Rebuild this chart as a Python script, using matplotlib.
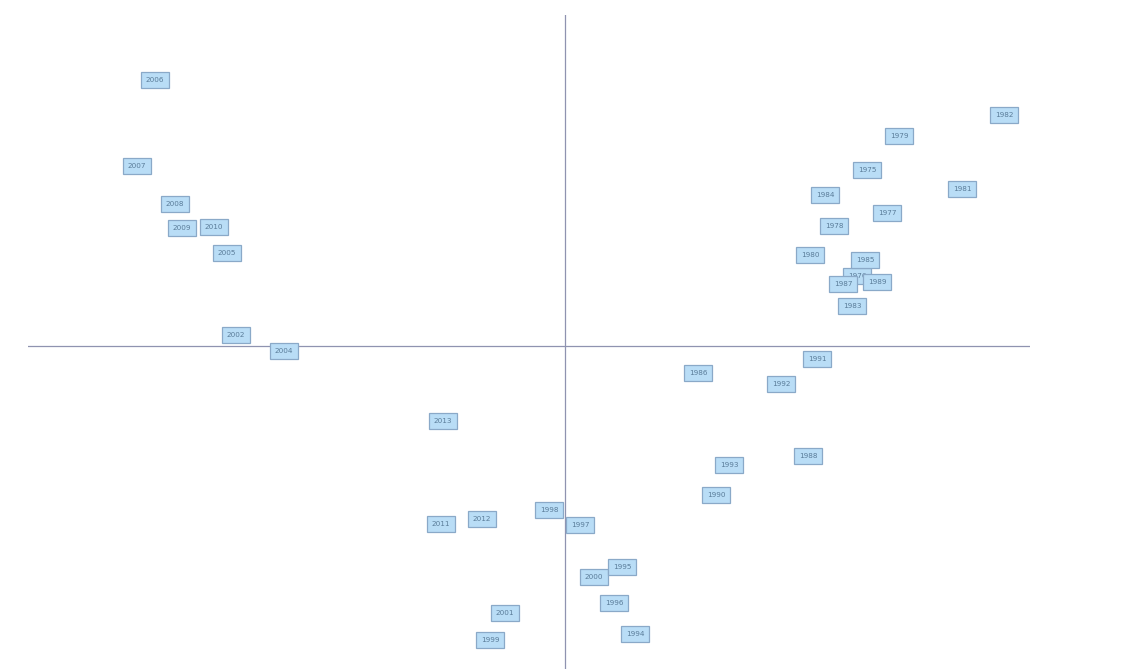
import matplotlib
matplotlib.use("Agg")
import matplotlib.pyplot as plt

# Year labels and their scores on the two dimensions
years = ["2006", "2007", "2008", "2009", "2010", "2005", "2002", "2004",
         "2013", "2011", "2012", "1998", "1997", "2000", "1995", "1996",
         "2001", "1999", "1994", "1986", "1992", "1991", "1993", "1990",
         "1988", "1980", "1976", "1985", "1987", "1989", "1983", "1978",
         "1977", "1984", "1975", "1979", "1981", "1982"]
dim1 = [-4.10, -4.28, -3.90, -3.83, -3.51, -3.38, -3.29, -2.81,
        -1.22, -1.24, -0.83, -0.16, 0.15, 0.29, 0.57, 0.49,
        -0.60, -0.75, 0.70, 1.33, 2.16, 2.52, 1.64, 1.51,
        2.43, 2.45, 2.92, 3.00, 2.78, 3.12, 2.87, 2.69,
        3.22, 2.60, 3.02, 3.34, 3.97, 4.39]
dim2 = [2.66, 1.80, 1.42, 1.18, 1.19, 0.93, 0.11, -0.05,
        -0.75, -1.78, -1.73, -1.64, -1.79, -2.31, -2.21, -2.57,
        -2.67, -2.94, -2.88, -0.27, -0.38, -0.13, -1.19, -1.49,
        -1.10, 0.91, 0.70, 0.86, 0.62, 0.64, 0.40, 1.20,
        1.33, 1.51, 1.76, 2.10, 1.57, 2.31]

W, H = 1135, 669
fig = plt.figure(figsize=(W / 100, H / 100), dpi=100)
fig.patch.set_facecolor("white")
ax = fig.add_axes([28 / W, 0.0, (1030 - 28) / W, (669 - 15) / H])
ax.set_xlim(-5.37, 4.65)
ax.set_ylim(-3.23, 3.31)
ax.set_facecolor("white")
for s in ax.spines.values():
    s.set_visible(False)
ax.set_xticks([])
ax.set_yticks([])

ax.axhline(0, color="#8f93b0", lw=0.9, zorder=1)
ax.axvline(0, color="#8f93b0", lw=0.9, zorder=1)

for yr, x, y in zip(years, dim1, dim2):
    ax.text(x, y, yr, ha="center", va="center", fontsize=5.2,
            color="#5a7c99", zorder=3,
            bbox=dict(boxstyle="square,pad=0.7", facecolor="#b9ddf6",
                      edgecolor="#8aa9c8", linewidth=0.9))

fig.savefig("out.png", dpi=100, facecolor="white")
